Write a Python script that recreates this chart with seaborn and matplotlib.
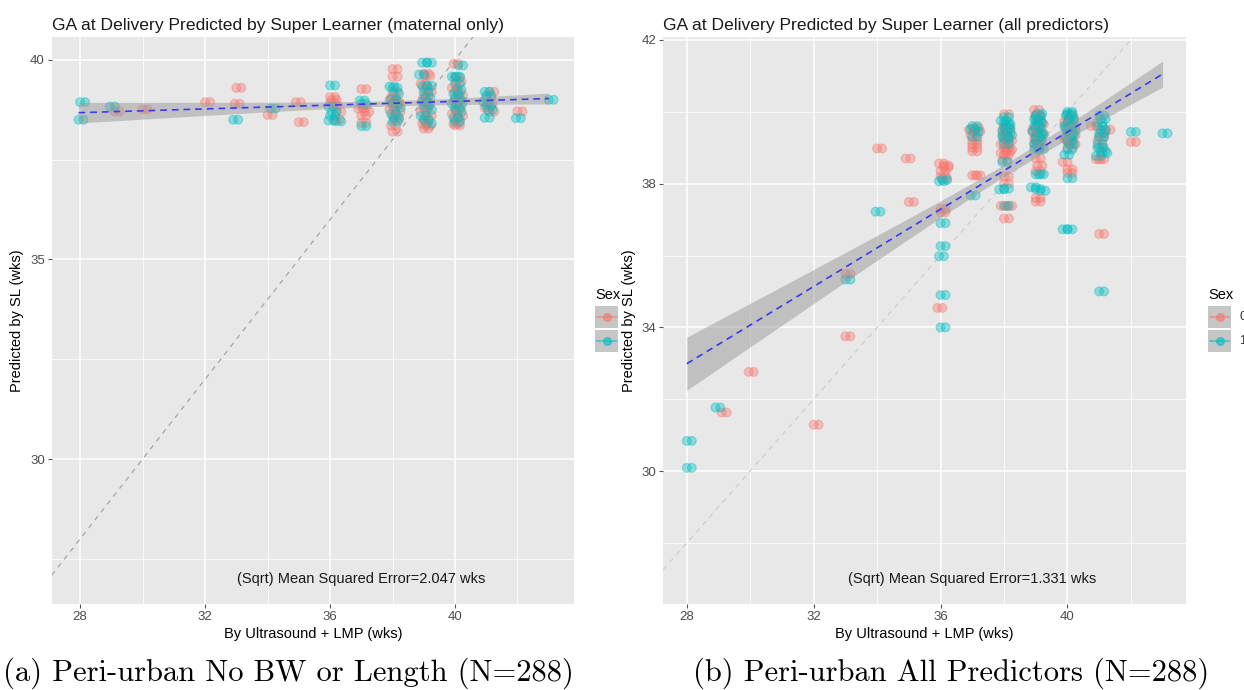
import numpy as np
import pandas as pd
import matplotlib
matplotlib.use("Agg")
import matplotlib.pyplot as plt
import seaborn as sns
from matplotlib.transforms import offset_copy
from matplotlib.patches import Rectangle
from matplotlib.lines import Line2D

# ---------------- data ----------------
# Panel (a): maternal only
a_x0 = [29.1, 30.0, 32.0, 33.0, 32.95, 34.0, 34.9, 35.0,
        36.0, 36.05, 36.1, 36.0, 36.2, 36.15,
        37.0, 37.0, 36.9, 37.0, 37.0, 37.1,
        38.0, 38.0, 38.0, 37.95, 38.05, 38.0, 37.9, 38.1, 38.0, 38.05, 37.95, 38.0, 38.1, 37.9,
        39.0, 39.05, 38.9, 39.0, 39.1, 39.0, 38.95, 39.05, 39.0, 38.9, 39.1, 39.0, 38.95, 39.0, 39.05,
        39.95, 40.0, 40.05, 39.9, 40.0, 40.1, 40.0, 39.95, 40.05, 40.0, 39.9, 40.1, 40.0, 39.95, 40.0,
        41.1, 41.0, 41.05, 40.95, 41.1, 42.0]
a_y0 = [38.71, 38.76, 38.94, 39.30, 38.90, 38.62, 38.94, 38.44,
        39.07, 39.0, 38.85, 38.92, 38.7, 38.5,
        39.27, 38.82, 38.78, 38.6, 38.42, 38.7,
        39.77, 39.58, 39.2, 39.05, 38.95, 38.85, 38.75, 38.7, 38.6, 38.5, 38.35, 38.2, 38.9, 39.0,
        39.65, 39.6, 39.4, 39.3, 39.2, 39.1, 39.0, 38.9, 38.8, 38.7, 38.6, 38.5, 38.4, 38.28, 38.35,
        39.9, 39.55, 39.45, 39.3, 39.2, 39.1, 39.0, 38.95, 38.85, 38.75, 38.65, 38.6, 38.5, 38.4, 38.36,
        39.2, 39.05, 38.9, 38.8, 38.7, 38.71]
a_x1 = [28.0, 27.95, 28.95, 32.9, 34.1,
        36.0, 35.95, 36.0, 36.05, 35.95, 36.2,
        36.95, 37.0, 37.0,
        37.9, 38.0, 38.05, 37.95, 38.0, 38.1, 37.95, 38.05, 38.0,
        38.95, 39.1, 38.85, 38.95, 39.1, 39.0, 39.05, 38.95, 39.0, 39.1, 38.9, 39.0, 39.1,
        40.1, 39.9, 40.0, 40.0, 40.05, 39.95, 40.0, 40.1, 39.9, 40.0, 40.05, 39.95, 40.0,
        40.95, 41.0, 40.9, 41.0, 41.05, 40.95, 41.95, 43.0]
a_y1 = [38.94, 38.5, 38.83, 38.5, 38.78,
        39.36, 38.83, 38.6, 38.7, 38.48, 38.46,
        38.98, 38.34, 38.9,
        39.33, 39.3, 39.15, 39.0, 38.9, 38.8, 38.65, 38.55, 38.45,
        39.93, 39.93, 39.63, 39.35, 39.35, 39.2, 39.05, 38.95, 38.85, 38.75, 38.6, 38.5, 38.4,
        39.86, 39.58, 39.58, 39.4, 39.25, 39.15, 39.05, 38.95, 38.9, 38.8, 38.7, 38.55, 38.45,
        39.2, 39.1, 38.95, 38.85, 38.75, 38.55, 38.54, 39.0]

# Panel (b): all predictors
b_x0 = [29.1, 29.95, 32.0, 33.0, 33.0, 34.0, 34.9, 35.0,
        35.95, 36.1, 36.0, 36.05, 36.0, 36.0, 35.9, 36.1, 36.0,
        36.9, 37.1, 37.0, 37.0, 37.0, 37.0, 37.1, 37.05, 36.95, 37.0,
        38.0, 38.0, 37.95, 38.05, 38.0, 38.1, 37.9, 38.0, 38.05, 38.0, 37.95, 38.0, 38.0, 37.9, 38.1, 38.0,
        38.05, 37.95, 38.0, 38.1, 37.9,
        38.95, 39.0, 39.05, 39.0, 38.9, 39.1, 39.0, 39.05, 38.95, 39.0, 39.0, 39.05, 39.0, 39.0, 39.0,
        39.0, 39.1, 38.9, 39.05, 38.95, 39.0,
        40.0, 39.9, 40.1, 40.0, 40.05, 39.95, 40.0, 40.1, 40.0, 39.85, 40.0, 40.0,
        40.05, 39.95, 40.0, 40.1, 39.9, 40.0,
        40.75, 41.2, 41.0, 40.9, 41.0, 41.0, 41.05, 40.95, 41.0, 42.0]
b_y0 = [31.63, 32.76, 31.29, 33.75, 35.49, 38.98, 38.7, 37.49,
        38.56, 38.5, 38.2, 38.15, 37.3, 37.2, 34.54, 38.45, 38.35,
        39.5, 39.45, 39.1, 39.0, 38.9, 38.23, 38.23, 39.55, 39.35, 39.2,
        39.93, 39.6, 39.5, 39.4, 39.3, 39.2, 39.1, 39.0, 38.9, 38.8, 38.65, 38.2, 38.0, 37.38, 37.38, 37.03,
        39.55, 39.35, 39.15, 38.95, 38.85,
        40.05, 39.9, 39.7, 39.6, 39.5, 39.4, 39.3, 39.2, 39.1, 39.0, 38.7, 38.5, 38.35, 37.6, 37.5,
        39.85, 39.65, 39.45, 39.35, 39.25, 39.15,
        39.9, 39.7, 39.6, 39.5, 39.4, 39.3, 39.2, 39.1, 39.0, 38.6, 38.4, 38.3,
        39.85, 39.65, 39.45, 39.35, 39.25, 39.15,
        39.6, 39.5, 39.3, 38.68, 38.68, 36.6, 39.45, 39.2, 39.0, 39.16]
b_x1 = [28.0, 28.0, 28.9, 33.0, 33.95,
        35.95, 36.0, 36.0, 35.95, 36.0, 36.0, 36.05,
        36.95, 37.0, 36.95, 37.05, 37.0,
        38.0, 37.9, 38.05, 38.0, 37.95, 38.1, 38.0, 37.95, 38.0, 37.85, 38.0,
        38.0, 38.05, 37.95, 38.0,
        39.0, 38.95, 39.05, 39.0, 38.9, 39.1, 39.0, 38.95, 39.1, 39.0, 39.1, 38.85, 39.0, 39.15,
        39.05, 39.0, 38.95, 39.05, 39.0, 38.95,
        40.0, 39.95, 40.05, 40.0, 39.9, 40.1, 40.0, 39.95, 40.05, 40.0, 39.9, 40.0, 39.85, 40.0,
        40.0, 40.05, 39.95, 40.0, 40.05, 40.0,
        41.0, 40.95, 41.05, 41.0, 40.95, 41.05, 40.9, 41.0, 41.05, 40.95, 41.0, 41.1, 40.95,
        42.0, 43.0]
b_y1 = [30.84, 30.09, 31.77, 35.33, 37.22,
        38.07, 36.9, 36.26, 35.98, 34.9, 34.0, 38.1,
        39.52, 39.3, 37.67, 39.45, 39.6,
        39.85, 39.75, 39.65, 39.55, 39.45, 39.35, 39.25, 38.6, 37.86, 37.84, 37.38,
        39.7, 39.5, 39.3, 39.1,
        39.9, 39.8, 39.7, 39.55, 39.45, 39.35, 39.2, 38.96, 38.96, 38.26, 38.26, 37.9, 37.85, 37.8,
        39.95, 39.75, 39.6, 39.4, 39.3, 39.1,
        40.0, 39.9, 39.8, 39.7, 39.6, 39.5, 39.4, 39.3, 39.1, 38.95, 38.8, 38.15, 36.73, 36.73,
        39.95, 39.75, 39.55, 39.45, 39.35, 39.2,
        39.9, 39.7, 39.5, 39.3, 39.1, 38.9, 38.77, 35.0, 39.8, 39.6, 39.4, 38.85, 39.0,
        39.44, 39.4]

sex_levels = ["0", "1"]
titles = ["GA at Delivery Predicted by Super Learner (maternal only)",
          "GA at Delivery Predicted by Super Learner (all predictors)"]
mse_labels = ["(Sqrt) Mean Squared Error=2.047 wks",
              "(Sqrt) Mean Squared Error=1.331 wks"]
captions = ["(a) Peri-urban No BW or Length (N=288)",
            "(b) Peri-urban All Predictors (N=288)"]
x_label = "By Ultrasound + LMP (wks)"
y_label = "Predicted by SL (wks)"
legend_title = "Sex"
x_ticks = [28, 32, 36, 40]
x_minor = [30, 34, 38, 42]
a_y_ticks = [30, 35, 40]
a_y_minor = [27.5, 32.5, 37.5]
b_y_ticks = [30, 34, 38, 42]
b_y_minor = [28, 32, 36, 40]

# ---------------- style ----------------
W, H = 1244, 690
RED, TEAL = "#F8766D", "#00BFC4"
palette = {"0": RED, "1": TEAL}
SANS = ["Liberation Sans", "DejaVu Sans"]
plt.rcParams["font.family"] = SANS

fig = plt.figure(figsize=(W / 100, H / 100), dpi=100)
fig.patch.set_facecolor("white")


def px_rect(l, t, r, b):
    return [l / W, 1 - b / H, (r - l) / W, (b - t) / H]


def style_axes(ax, xlim, ylim, yt, ym):
    ax.set_facecolor("#E8E8E8")
    for s in ax.spines.values():
        s.set_visible(False)
    ax.set_xlim(*xlim)
    ax.set_ylim(*ylim)
    ax.set_xticks(x_ticks)
    ax.set_xticks(x_minor, minor=True)
    ax.set_yticks(yt)
    ax.set_yticks(ym, minor=True)
    ax.grid(which="major", color="white", lw=1.1)
    ax.grid(which="minor", color="white", lw=0.55)
    ax.set_axisbelow(True)
    ax.tick_params(which="minor", length=0)
    ax.tick_params(which="major", length=3, width=0.8, color="#555555",
                   labelsize=9.5, labelcolor="#4D4D4D", pad=2)


def ols_band(x, y, grid, t=1.97):
    """Ordinary least squares fit with analytic 95% confidence band."""
    x = np.asarray(x, float)
    y = np.asarray(y, float)
    n = len(x)
    b1, b0 = np.polyfit(x, y, 1)
    resid = y - (b0 + b1 * x)
    s = np.sqrt(np.sum(resid ** 2) / (n - 2))
    sxx = np.sum((x - x.mean()) ** 2)
    fit = b0 + b1 * grid
    se = s * np.sqrt(1.0 / n + (grid - x.mean()) ** 2 / sxx)
    return fit - t * se, fit + t * se


panels = [
    dict(x0=a_x0, y0=a_y0, x1=a_x1, y1=a_y1, rect=(51.7, 36.7, 574, 604),
         xlim=(27.09, 43.81), ylim=(26.37, 40.58), yt=a_y_ticks, ym=a_y_minor,
         diag="#A6A6A6", title=titles[0], mse=mse_labels[0]),
    dict(x0=b_x0, y0=b_y0, x1=b_x1, y1=b_y1, rect=(663, 36.7, 1186, 604),
         xlim=(27.25, 43.74), ylim=(26.3, 42.09), yt=b_y_ticks, ym=b_y_minor,
         diag="#CFCFCF", title=titles[1], mse=mse_labels[1]),
]

for p in panels:
    ax = fig.add_axes(px_rect(*p["rect"]))
    style_axes(ax, p["xlim"], p["ylim"], p["yt"], p["ym"])
    df = pd.DataFrame({
        "x": p["x0"] + p["x1"],
        "y": p["y0"] + p["y1"],
        "Sex": [sex_levels[0]] * len(p["x0"]) + [sex_levels[1]] * len(p["x1"]),
    })
    # points drawn twice (slightly shifted copy), as in the reference
    for dx in (0, 5):
        tr = offset_copy(ax.transData, fig=fig, x=dx, y=0, units="dots")
        sns.scatterplot(data=df, x="x", y="y", hue="Sex", palette=palette,
                        hue_order=sex_levels, s=40, alpha=0.38,
                        edgecolor="face", linewidth=0.9, legend=False,
                        ax=ax, transform=tr, zorder=2)
    # y = x reference line
    ax.axline((30, 30), slope=1, color=p["diag"], ls=(0, (4, 4)), lw=0.9, zorder=1.5)
    # linear fit with analytic 95% band (as geom_smooth(method="lm"))
    grid = np.linspace(df["x"].min(), df["x"].max(), 100)
    lo, hi = ols_band(df["x"], df["y"], grid)
    ax.fill_between(grid, lo, hi, color="#9A9A9A", alpha=0.5, lw=0, zorder=3)
    sns.regplot(data=df, x="x", y="y", scatter=False, ci=None, ax=ax,
                line_kws=dict(color="#3A3AF0", ls=(0, (4, 3)), lw=1.2, zorder=4))
    ax.set_xlabel(x_label, fontsize=10.5, color="black", labelpad=3)
    ax.set_ylabel(y_label, fontsize=10.5, color="black", labelpad=4)
    ax.text(37.0, 27.0, p["mse"], ha="center", va="center", fontsize=10.5, color="#1A1A1A")
    ax.set_title(p["title"], loc="left", fontsize=12.6, color="#1A1A1A", pad=5)

# ---------------- legends (ggplot style keys) ----------------
def draw_legend(x0, show_labels):
    fig.text(x0 / W, 1 - 295 / H, legend_title, fontsize=10.5, va="center", ha="left")
    for i, lev in enumerate(sex_levels):
        top = 306 + i * 24
        fig.patches.append(Rectangle((x0 / W, 1 - (top + 22) / H), 23 / W, 22 / H,
                                     transform=fig.transFigure, facecolor="#C6C6C6",
                                     edgecolor="none"))
        yc = 1 - (top + 11) / H
        fig.lines.append(Line2D([(x0 + 2) / W, (x0 + 21) / W], [yc, yc],
                                transform=fig.transFigure, color=palette[lev],
                                alpha=0.6, lw=1.3))
        fig.lines.append(Line2D([(x0 + 11.5) / W], [yc], transform=fig.transFigure,
                                marker="o", ms=5.5, color=palette[lev], alpha=0.6,
                                lw=0))
        if show_labels:
            fig.text((x0 + 31) / W, yc, lev, fontsize=9, va="center", ha="left",
                     color="#333333")

draw_legend(595, False)
draw_legend(1208, True)

# ---------------- captions ----------------
fig.text(3 / W, 1 - 681 / H, captions[0], family="cmr10", fontsize=22, va="baseline")
fig.text(693 / W, 1 - 681 / H, captions[1], family="cmr10", fontsize=22, va="baseline")

fig.savefig("out.png", dpi=100)
